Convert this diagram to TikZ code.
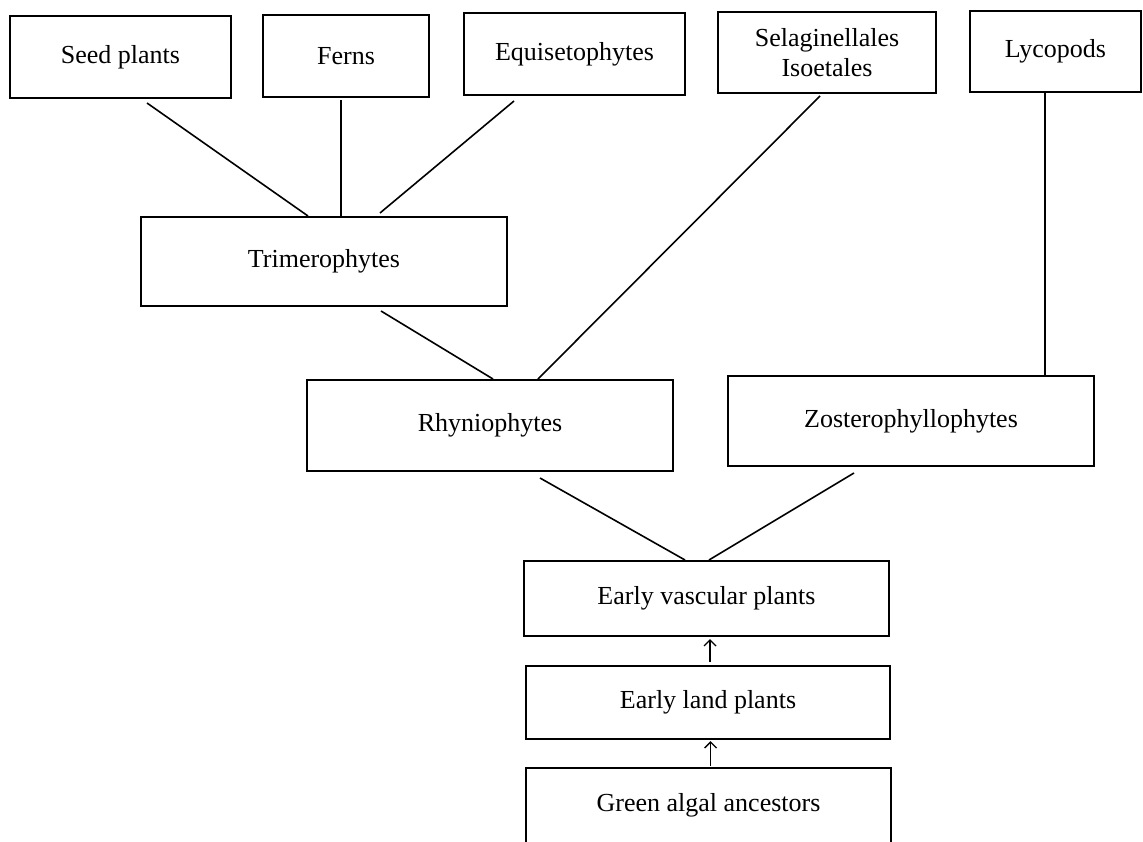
\documentclass[tikz,border=0pt]{standalone}
\usepackage{fontspec}
\setmainfont{Liberation Serif}
\usetikzlibrary{arrows.meta}
\begin{document}
\begin{tikzpicture}[x=1pt,y=-1pt,
  taxbox/.style={draw,line width=2pt,rectangle,inner sep=0pt,align=center,
    font=\fontsize{26}{30}\selectfont},
  conn/.style={line width=1.6pt},
  arr/.style={line width=1.6pt,-{Straight Barb[length=6pt,width=12pt,line width=1.4pt]}}]
\useasboundingbox (0,0) rectangle (1143,841);
\clip (0,0) rectangle (1143,841);
\node[taxbox,minimum width=221pt,minimum height=82pt] (seed)  at (120.5,57)  {Seed plants};
\node[taxbox,minimum width=166pt,minimum height=82pt] (ferns) at (346,56)    {Ferns};
\node[taxbox,minimum width=221pt,minimum height=82pt] (equi)  at (574.5,54)  {Equisetophytes};
\node[taxbox,minimum width=218pt,minimum height=81pt] (sel)   at (827,52.5)  {Selaginellales\\Isoetales};
\node[taxbox,minimum width=171pt,minimum height=81pt] (lyc)   at (1055.5,51.5) {\raisebox{5pt}{Lycopods}};
\node[taxbox,minimum width=366pt,minimum height=89pt] (tri)   at (324,261.5) {Trimerophytes};
\node[taxbox,minimum width=366pt,minimum height=91pt] (rhy)   at (490,425.5) {Rhyniophytes};
\node[taxbox,minimum width=366pt,minimum height=90pt] (zos)   at (911,421)   {Zosterophyllophytes};
\node[taxbox,minimum width=365pt,minimum height=75pt] (evp)   at (706.5,598.5) {Early vascular plants};
\node[taxbox,minimum width=364pt,minimum height=73pt] (elp)   at (708,702.5) {Early land plants};
\node[taxbox,minimum width=365pt,minimum height=75pt] (gaa)   at (708.5,805.5) {Green algal ancestors};
\draw[conn] ([xshift=26.5pt,yshift=-4pt]seed.south) -- ([xshift=-16pt]tri.north);
\draw[conn] ([xshift=-5pt,yshift=-2pt]ferns.south) -- ([xshift=17pt]tri.north);
\draw[conn] ([xshift=-60.5pt,yshift=-5pt]equi.south) -- ([xshift=56pt,yshift=3pt]tri.north);
\draw[conn] ([xshift=57pt,yshift=-4pt]tri.south) -- ([xshift=3pt]rhy.north);
\draw[conn] ([xshift=-7pt,yshift=-2pt]sel.south) -- ([xshift=48pt]rhy.north);
\draw[conn] ([xshift=-10.5pt]lyc.south) -- ([xshift=134pt]zos.north);
\draw[conn] ([xshift=50pt,yshift=-6pt]rhy.south) -- ([xshift=-21.5pt]evp.north);
\draw[conn] ([xshift=-57pt,yshift=-6pt]zos.south) -- ([xshift=2.5pt]evp.north);
\draw[arr] ([xshift=2pt,yshift=3pt]elp.north) -- ([xshift=3.5pt,yshift=-2pt]evp.south);
\draw[arr] ([xshift=2pt,yshift=1pt]gaa.north) -- ([xshift=2.5pt,yshift=-1pt]elp.south);
\end{tikzpicture}
\end{document}
